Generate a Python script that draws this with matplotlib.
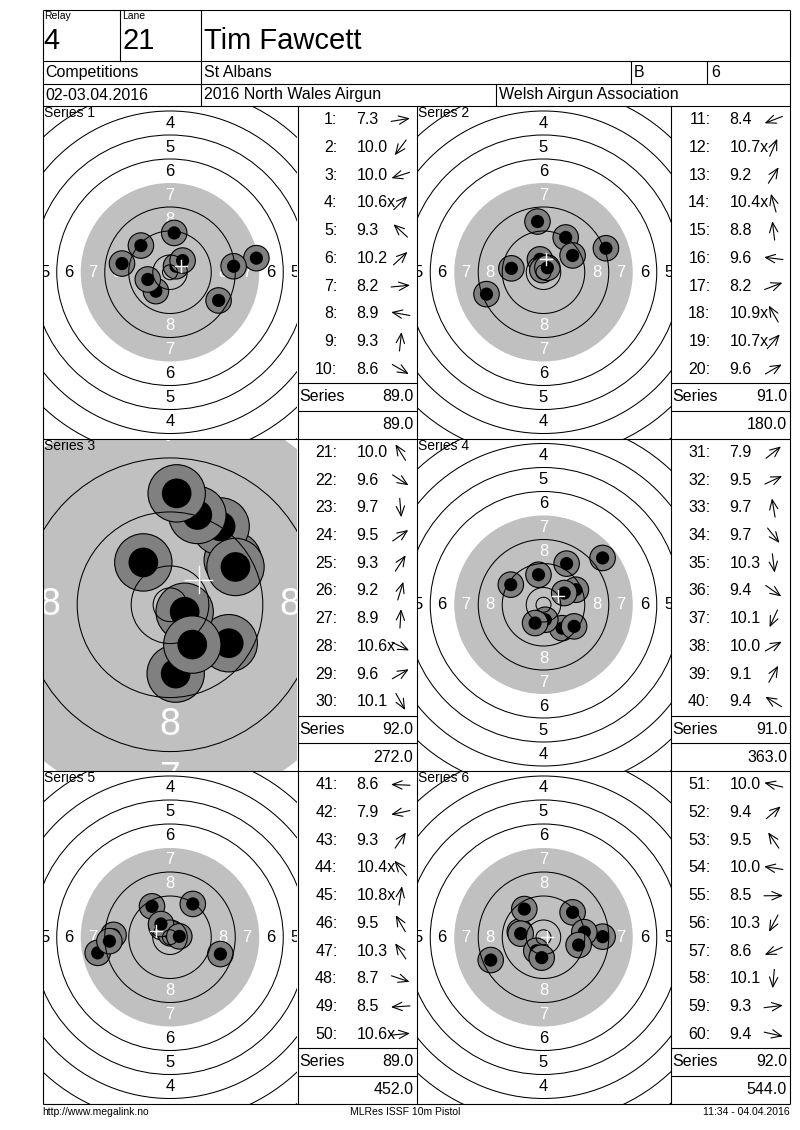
import numpy as np
import matplotlib
matplotlib.use('Agg')
import matplotlib.pyplot as plt
from matplotlib.patches import Circle

plt.rcParams['font.family'] = ['Liberation Sans', 'DejaVu Sans']

# header values
relay = '4'
lane = '21'
shooter = 'Tim Fawcett'
club = 'St Albans'
shooter_class = 'B'
target_no = '6'
event_date = '02-03.04.2016'
event_name = '2016 North Wales Airgun'
organiser = 'Welsh Airgun Association'
footer_left = 'http://www.megalink.no'
footer_mid = 'MLRes ISSF 10m Pistol'
footer_right = '11:34 - 04.04.2016'

# shots: position in mm from target centre (x right, y up) and decimal score
s1_score = ['7.3', '10.0', '10.0', '10.6x', '9.3', '10.2', '8.2', '8.9', '9.3', '8.6']
s1_x = [28.8, -4.7, -7.4, 2.0, -9.7, 4.2, 21.2, -16.0, 1.4, 16.2]
s1_y = [4.7, -6.3, -2.4, 2.0, 8.9, 3.9, 2.0, 2.9, 13.1, -9.4]

s2_score = ['8.4', '10.7x', '9.2', '10.4x', '8.8', '9.6', '8.2', '10.9x', '10.7x', '9.6']
s2_x = [-19.0, 0.8, 7.4, -1.2, -2.0, -10.7, 20.8, -0.4, 1.3, 9.7]
s2_y = [-7.3, 1.85, 11.6, 4.3, 16.9, 1.3, 8.0, 0.7, 1.5, 5.6]

s3_score = ['10.0', '9.6', '9.7', '9.5', '9.3', '9.2', '8.9', '10.6x', '9.6', '10.1']
s3_x = [-3.95, 8.7, 0.84, 9.3, 7.5, 4.05, 0.99, 2.17, 9.7, 3.3]
s3_y = [6.27, -5.7, -10.2, 6.6, 11.6, 13.3, 16.5, -1.04, 5.6, -5.9]

s4_score = ['7.9', '9.5', '9.7', '9.7', '10.3', '9.4', '10.1', '10.0', '9.1', '9.4']
s4_x = [19.7, 10.8, -1.67, 6.2, 0.6, 10.2, -2.8, 6.9, 7.7, -10.9]
s4_y = [15.6, 5.0, 10.0, -7.8, -5.0, -7.2, -6.1, 3.9, 13.7, 6.7]

s5_score = ['8.6', '7.9', '9.3', '10.4x', '10.8x', '9.5', '10.3', '8.7', '8.5', '10.6x']
s5_x = [-18.8, -24.1, 7.6, -2.8, 0.2, -6.0, -3.0, 16.8, -20.2, 3.1]
s5_y = [0.8, -5.2, 11.1, 3.4, 1.3, 10.3, 4.4, -5.6, -1.3, 0.3]

s6_score = ['10.0', '9.4', '9.5', '10.0', '8.5', '10.3', '8.6', '10.1', '9.3', '9.4']
s6_x = [-7.9, 9.7, -6.4, -7.6, 19.7, -2.4, -17.6, -0.6, 13.6, 11.7]
s6_y = [1.9, 8.3, 9.4, 1.2, 0.2, -4.5, -7.6, -6.8, 1.7, -2.6]

series_names = ['Series 1', 'Series 2', 'Series 3', 'Series 4', 'Series 5', 'Series 6']
series_zoom = [1, 1, 2.25, 1, 1, 1]
series_total = ['89.0', '91.0', '92.0', '91.0', '89.0', '92.0']
running_total = ['89.0', '180.0', '272.0', '363.0', '452.0', '544.0']

W, H = 800, 1130
fig = plt.figure(figsize=(8, 11.3), dpi=100)
fig.patch.set_facecolor('white')


def px_axes(x0, y0, w, h):
    ax = fig.add_axes([x0 / W, 1 - (y0 + h) / H, w / W, h / H])
    ax.set_facecolor('none')
    return ax


def ring_r(n):
    # ISSF 10m pistol ring radius in mm
    return 5.75 + 8.0 * (10 - n)


def draw_target(ax, xs, ys, zoom, name, w, h):
    s = 3.0 * zoom
    hw, hh = w / 2 / s, h / 2 / s
    ax.set_xlim(-hw, hw)
    ax.set_ylim(-hh, hh)
    ax.axis('off')

    ax.add_patch(Circle((0, 0), ring_r(7), fc='#c0c0c0', ec='none', zorder=1))

    # ring numbers 4..8, clipped by the panel
    for n in range(4, 9):
        rr = ring_r(n) - 4.0
        col = 'white' if n >= 7 else 'black'
        for dx, dy in [(0, 1), (0, -1), (-1, 0), (1, 0)]:
            ax.text(dx * rr, dy * rr, str(n), ha='center', va='center',
                    fontsize=12 * zoom, color=col, zorder=1.5, clip_on=True)

    for i, (x, y) in enumerate(zip(xs, ys)):
        z = 2 + i * 0.01
        ax.add_patch(Circle((x, y), 4.25, fc='#808080', ec='black', lw=0.8, zorder=z))
        ax.add_patch(Circle((x, y), 2.2, fc='black', ec='none', zorder=z + 0.005))

    for n in [1, 2, 3, 4, 5, 6, 8, 9, 10]:
        ax.add_patch(Circle((0, 0), ring_r(n), fc='none', ec='black', lw=0.75, zorder=3))
    ax.add_patch(Circle((0, 0), 2.5, fc='none', ec='black', lw=0.75, zorder=3))

    # mean point of impact
    mx, my = np.mean(xs), np.mean(ys)
    ax.plot([mx - 2, mx + 2], [my, my], color='white', lw=1.0, zorder=4)
    ax.plot([mx, mx], [my - 2, my + 2], color='white', lw=1.0, zorder=4)

    ax.text(1.5 / w, 1 - 7 / h, name, transform=ax.transAxes, ha='left', va='center',
            fontsize=10, color='black', zorder=5)


left, right = 42.5, 790
cols_t = [42.5, 416.5]
cols_l = [297.5, 670.5]
list_w = [119, 119.5]
t_w = [255, 254]
rows = [106, 438.5, 771]
row_h = 332.5
rh = row_h / 12

all_x = [s1_x, s2_x, s3_x, s4_x, s5_x, s6_x]
all_y = [s1_y, s2_y, s3_y, s4_y, s5_y, s6_y]
all_score = [s1_score, s2_score, s3_score, s4_score, s5_score, s6_score]

for k in range(6):
    r, c = k // 2, k % 2
    ax = px_axes(cols_t[c], rows[r], t_w[c], row_h)
    draw_target(ax, all_x[k], all_y[k], series_zoom[k], series_names[k], t_w[c], row_h)

# page overlay: lines and text
pg = fig.add_axes([0, 0, 1, 1])
pg.set_xlim(0, W)
pg.set_ylim(H, 0)
pg.axis('off')
pg.set_facecolor('none')


def hline(y, x0, x1):
    pg.plot([x0, x1], [y, y], color='black', lw=0.8, solid_capstyle='butt')


def vline(x, y0, y1):
    pg.plot([x, x], [y0, y1], color='black', lw=0.8, solid_capstyle='butt')


top, bottom = 10, 1104
hline(top, left, right)
hline(bottom, left, right)
vline(left, top, bottom)
vline(right, top, bottom)
for y in [61, 84, 106, 438.5, 771]:
    hline(y, left, right)
vline(120, 10, 61)
vline(201, 10, 106)
vline(631, 61, 84)
vline(707, 61, 84)
vline(496, 84, 106)
for x in [297.5, 416.5, 670.5]:
    vline(x, 106, bottom)

# header text
pg.text(44, 16, 'Relay', fontsize=7.5, va='center', ha='left')
pg.text(122, 16, 'Lane', fontsize=7.5, va='center', ha='left')
pg.text(43, 41, relay, fontsize=21, va='center', ha='left')
pg.text(122, 41, lane, fontsize=21, va='center', ha='left')
pg.text(204, 41, shooter, fontsize=21, va='center', ha='left')
pg.text(45, 72.5, 'Competitions', fontsize=11.5, va='center', ha='left')
pg.text(204, 72.5, club, fontsize=11.5, va='center', ha='left')
pg.text(634, 72.5, shooter_class, fontsize=11.5, va='center', ha='left')
pg.text(711, 72.5, target_no, fontsize=11.5, va='center', ha='left')
pg.text(45, 95, event_date, fontsize=11.5, va='center', ha='left')
pg.text(204, 95, event_name, fontsize=11.5, va='center', ha='left')
pg.text(499, 95, organiser, fontsize=11.5, va='center', ha='left')

# shot lists
for k in range(6):
    r, c = k // 2, k % 2
    x0 = cols_l[c]
    x1 = x0 + list_w[c]
    y0 = rows[r]
    hline(y0 + 10 * rh, x0, x1)
    hline(y0 + 11 * rh, x0, x1)
    for i, sc in enumerate(all_score[k]):
        cy = y0 + rh * (i + 0.5)
        pg.text(x0 + 40, cy, f'{k * 10 + i + 1}:', fontsize=11.5, ha='right', va='center')
        pg.text(x0 + 59, cy, sc, fontsize=11.5, ha='left', va='center')
        ang = np.arctan2(all_y[k][i], all_x[k][i])
        ax_c = x0 + 103
        L = 19
        dx, dy = np.cos(ang) * L / 2, -np.sin(ang) * L / 2
        pg.annotate('', xy=(ax_c + dx, cy + dy), xytext=(ax_c - dx, cy - dy),
                    arrowprops=dict(arrowstyle='->, head_length=0.7, head_width=0.3',
                                    lw=0.8, color='black',
                                    shrinkA=0, shrinkB=0, mutation_scale=10))
    pg.text(x0 + 2, y0 + 10.5 * rh, 'Series', fontsize=11.5, ha='left', va='center')
    pg.text(x1 - 3, y0 + 10.5 * rh, series_total[k], fontsize=11.5, ha='right', va='center')
    pg.text(x1 - 3, y0 + 11.5 * rh, running_total[k], fontsize=11.5, ha='right', va='center')

# footer
pg.text(42, 1112, footer_left, fontsize=7.5, ha='left', va='center')
pg.text(405, 1112, footer_mid, fontsize=7.5, ha='center', va='center')
pg.text(790, 1112, footer_right, fontsize=7.5, ha='right', va='center')

fig.savefig('out.png', dpi=100, facecolor='white')
